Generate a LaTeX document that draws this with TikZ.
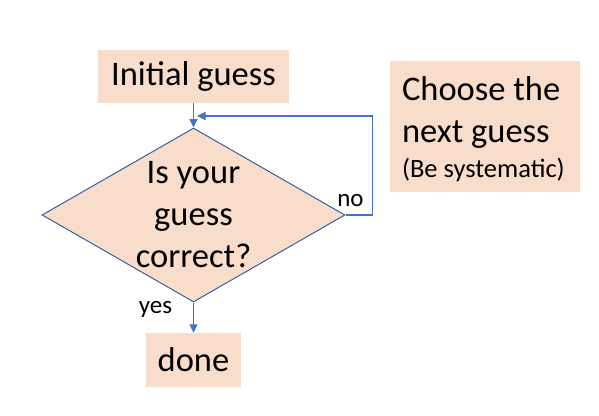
\documentclass[tikz,border=0pt]{standalone}
\usepackage{fontspec}
\setmainfont{Carlito}
\usetikzlibrary{shapes.geometric,arrows.meta}
\definecolor{peach}{HTML}{F9DDCB}
\definecolor{arrowblue}{HTML}{4472C4}
\definecolor{darkblue}{HTML}{3A5FA0}
\begin{document}
\begin{tikzpicture}[x=1pt,y=-1pt,
  box/.style={fill=peach, draw=none, inner sep=0pt},
  big/.style={font=\fontsize{34.5}{42}\selectfont},
  small/.style={font=\fontsize{25}{29}\selectfont},
  conn/.style={draw=arrowblue, line width=1.2pt, -{Triangle[length=8.5pt,width=8pt]}},
]
\useasboundingbox (0,0) rectangle (599,415);
\node[box,big,minimum width=191pt,minimum height=53pt] (init) at (193.5,76.5) {Initial guess};
\node[diamond, fill=peach, draw=darkblue, line width=1pt, minimum width=303pt, minimum height=174pt, inner sep=0pt] (q) at (193.5,215) {};
\node[big, align=center] (qt) at (193.5,214.5) {Is your\\guess\\correct?};
\node[box, big, text width=166pt, text height=29pt, inner xsep=12pt, minimum height=131pt, align=flush left] (next) at (485,126.5) {Choose the\\next guess\\[-7pt]{\fontsize{26.5}{30}\selectfont (Be systematic)}};
\node[box, big, minimum width=95pt, minimum height=54pt] (done) at (193.5,360) {done};
\node[small, anchor=base] (yes) at (155.5,313) {yes};
\node[small, anchor=base] (no) at (350.5,206) {no};
\coordinate (back) at (197,116);
\draw[conn] (init.south) -- (q.north);
\draw[conn] (q.east) -- ++(27,0) |- (back);
\draw[conn] (q.south) -- (done.north);
\end{tikzpicture}
\end{document}
